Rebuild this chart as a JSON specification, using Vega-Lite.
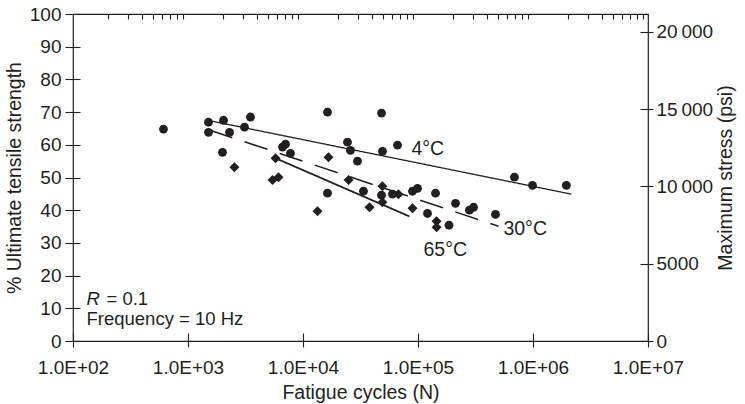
{
  "$schema": "https://vega.github.io/schema/vega-lite/v6.json",
  "width": 575,
  "height": 327,
  "autosize": "none",
  "padding": {"left": 73, "top": 14, "right": 97, "bottom": 63},
  "background": "white",
  "config": {
    "view": {"stroke": "#231f20", "strokeWidth": 1.2},
    "font": "Liberation Sans",
    "axis": {
      "labelFont": "Liberation Sans",
      "titleFont": "Liberation Sans",
      "labelColor": "#231f20",
      "titleColor": "#231f20",
      "tickColor": "#231f20",
      "domainColor": "#231f20",
      "grid": false,
      "labelFontSize": 19,
      "titleFontSize": 19.5,
      "titleFontWeight": "normal",
      "tickWidth": 1.1,
      "domain": false
    },
    "text": {"font": "Liberation Sans", "fontSize": 19.5, "color": "#231f20"}
  },
  "datasets": {
    "points": [
      {"group": "4 °C / 30 °C", "N": 612, "pct": 64.8},
      {"group": "4 °C / 30 °C", "N": 1507, "pct": 66.9},
      {"group": "4 °C / 30 °C", "N": 1507, "pct": 63.8},
      {"group": "4 °C / 30 °C", "N": 2037, "pct": 67.5},
      {"group": "4 °C / 30 °C", "N": 2296, "pct": 63.8},
      {"group": "4 °C / 30 °C", "N": 3099, "pct": 65.4},
      {"group": "4 °C / 30 °C", "N": 3493, "pct": 68.5},
      {"group": "4 °C / 30 °C", "N": 1995, "pct": 57.7},
      {"group": "4 °C / 30 °C", "N": 6637, "pct": 59.3},
      {"group": "4 °C / 30 °C", "N": 7047, "pct": 60.2},
      {"group": "4 °C / 30 °C", "N": 7780, "pct": 57.4},
      {"group": "4 °C / 30 °C", "N": 16330, "pct": 70.0},
      {"group": "4 °C / 30 °C", "N": 48170, "pct": 69.7},
      {"group": "4 °C / 30 °C", "N": 24380, "pct": 60.8},
      {"group": "4 °C / 30 °C", "N": 25880, "pct": 58.3},
      {"group": "4 °C / 30 °C", "N": 49090, "pct": 58.0},
      {"group": "4 °C / 30 °C", "N": 66370, "pct": 59.9},
      {"group": "4 °C / 30 °C", "N": 29770, "pct": 55.0},
      {"group": "4 °C / 30 °C", "N": 16330, "pct": 45.2},
      {"group": "4 °C / 30 °C", "N": 33560, "pct": 45.8},
      {"group": "4 °C / 30 °C", "N": 48170, "pct": 44.6},
      {"group": "4 °C / 30 °C", "N": 60000, "pct": 44.9},
      {"group": "4 °C / 30 °C", "N": 89600, "pct": 45.8},
      {"group": "4 °C / 30 °C", "N": 99100, "pct": 46.7},
      {"group": "4 °C / 30 °C", "N": 142000, "pct": 45.2},
      {"group": "4 °C / 30 °C", "N": 121000, "pct": 39.0},
      {"group": "4 °C / 30 °C", "N": 212000, "pct": 42.1},
      {"group": "4 °C / 30 °C", "N": 280000, "pct": 40.0},
      {"group": "4 °C / 30 °C", "N": 304000, "pct": 40.9},
      {"group": "4 °C / 30 °C", "N": 472000, "pct": 38.7},
      {"group": "4 °C / 30 °C", "N": 186000, "pct": 35.4},
      {"group": "4 °C / 30 °C", "N": 690000, "pct": 50.1},
      {"group": "4 °C / 30 °C", "N": 990000, "pct": 47.6},
      {"group": "4 °C / 30 °C", "N": 1950000, "pct": 47.6},
      {"group": "65 °C", "N": 2535, "pct": 53.1},
      {"group": "65 °C", "N": 5770, "pct": 55.9},
      {"group": "65 °C", "N": 5430, "pct": 49.2},
      {"group": "65 °C", "N": 6120, "pct": 50.1},
      {"group": "65 °C", "N": 16670, "pct": 56.2},
      {"group": "65 °C", "N": 24890, "pct": 49.2},
      {"group": "65 °C", "N": 13370, "pct": 39.7},
      {"group": "65 °C", "N": 49090, "pct": 47.3},
      {"group": "65 °C", "N": 49090, "pct": 42.4},
      {"group": "65 °C", "N": 37870, "pct": 40.9},
      {"group": "65 °C", "N": 67600, "pct": 44.9},
      {"group": "65 °C", "N": 89600, "pct": 40.6},
      {"group": "65 °C", "N": 145000, "pct": 36.6},
      {"group": "65 °C", "N": 145000, "pct": 34.8}
    ],
    "fits": [
      {"temp": "4°C", "N": 1479, "pct": 67.5},
      {"temp": "4°C", "N": 2160000, "pct": 44.9},
      {"temp": "30°C", "N": 1538, "pct": 64.5},
      {"temp": "30°C", "N": 500000, "pct": 35.1},
      {"temp": "65°C", "N": 5770, "pct": 55.9},
      {"temp": "65°C", "N": 84300, "pct": 38.1}
    ],
    "labels": [
      {"label": "4°C", "N": 87700, "pct": 58.7},
      {"label": "30°C", "N": 553000, "pct": 34.1},
      {"label": "65°C", "N": 111700, "pct": 27.7}
    ],
    "notes": [
      {"part": "R", "N": 131, "psi": 2707},
      {"part": "= 0.1", "N": 131, "psi": 2707},
      {"part": "Frequency = 10 Hz", "N": 131, "psi": 1417}
    ]
  },
  "layer": [
    {
      "data": {"name": "points"},
      "mark": {"type": "point", "filled": true, "opacity": 1, "color": "#231f20", "strokeWidth": 0},
      "encoding": {
        "x": {
          "field": "N", "type": "quantitative",
          "scale": {"type": "log", "domain": [100, 10000000], "nice": false},
          "axis": {
            "values": [100, 1000, 10000, 100000, 1000000, 10000000],
            "labelExpr": "'1.0E+0' + round(log(datum.value) / LN10)",
            "labelFlush": false,
            "labelOverlap": false,
            "offset": -8,
            "tickSize": 14,
            "labelPadding": 11,
            "title": "Fatigue cycles (N)",
            "titlePadding": 6
          }
        },
        "y": {
          "field": "pct", "type": "quantitative",
          "scale": {"domain": [0, 100], "nice": false},
          "axis": {
            "values": [0, 10, 20, 30, 40, 50, 60, 70, 80, 90, 100],
            "offset": -7,
            "tickSize": 15,
            "labelPadding": 4,
            "title": "% Ultimate tensile strength",
            "titlePadding": 5
          }
        },
        "shape": {
          "field": "group", "type": "nominal",
          "scale": {"domain": ["4 °C / 30 °C", "65 °C"], "range": ["circle", "diamond"]},
          "legend": null
        },
        "size": {
          "field": "group", "type": "nominal",
          "scale": {"domain": ["4 °C / 30 °C", "65 °C"], "range": [78, 100]},
          "legend": null
        }
      }
    },
    {
      "data": {"name": "fits"},
      "mark": {"type": "line", "color": "#231f20"},
      "encoding": {
        "x": {
          "field": "N", "type": "quantitative",
          "scale": {"type": "log", "domain": [100, 10000000], "nice": false},
          "axis": {
            "values": [200, 300, 400, 500, 600, 700, 800, 900, 2000, 3000, 4000, 5000, 6000, 7000, 8000, 9000, 20000, 30000, 40000, 50000, 60000, 70000, 80000, 90000, 200000, 300000, 400000, 500000, 600000, 700000, 800000, 900000, 2000000, 3000000, 4000000, 5000000, 6000000, 7000000, 8000000, 9000000],
            "labels": false,
            "offset": -5,
            "tickSize": 5,
            "title": null
          }
        },
        "y": {
          "field": "pct", "type": "quantitative",
          "scale": {"domain": [0, 100], "nice": false},
          "axis": null
        },
        "detail": {"field": "temp", "type": "nominal"},
        "strokeDash": {
          "field": "temp", "type": "nominal",
          "scale": {"domain": ["4°C", "30°C", "65°C"], "range": [[1, 0], [24, 13], [1, 0]]},
          "legend": null
        },
        "strokeWidth": {
          "field": "temp", "type": "nominal",
          "scale": {"domain": ["4°C", "30°C", "65°C"], "range": [1.3, 1.8, 2.1]},
          "legend": null
        }
      }
    },
    {
      "data": {"name": "labels"},
      "mark": {"type": "text", "align": "left", "baseline": "middle"},
      "encoding": {
        "x": {
          "field": "N", "type": "quantitative",
          "scale": {"type": "log", "domain": [100, 10000000], "nice": false},
          "axis": null
        },
        "y": {
          "field": "pct", "type": "quantitative",
          "scale": {"domain": [0, 100], "nice": false},
          "axis": null
        },
        "text": {"field": "label"}
      }
    },
    {
      "data": {"name": "notes"},
      "encoding": {
        "x": {
          "field": "N", "type": "quantitative",
          "scale": {"type": "log", "domain": [100, 10000000], "nice": false},
          "axis": null
        },
        "y": {
          "field": "psi", "type": "quantitative",
          "scale": {"domain": [0, 21150], "nice": false},
          "axis": {
            "orient": "right",
            "values": [0, 5000, 10000, 15000, 20000],
            "labelExpr": "datum.value >= 10000 ? replace(format(datum.value, ','), ',', '\u2009') : format(datum.value, 'd')",
            "offset": -8,
            "tickSize": 13,
            "labelPadding": 3,
            "title": "Maximum stress (psi)",
            "titleAngle": 270,
            "titleBaseline": "top",
            "titlePadding": 4
          }
        },
        "text": {"field": "part"}
      },
      "layer": [
        {
          "transform": [{"filter": "datum.part == 'R'"}],
          "mark": {"type": "text", "align": "left", "baseline": "middle", "fontStyle": "italic", "fontSize": 18.5}
        },
        {
          "transform": [{"filter": "datum.part == '= 0.1'"}],
          "mark": {"type": "text", "align": "left", "baseline": "middle", "dx": 20, "fontSize": 18.5}
        },
        {
          "transform": [{"filter": "datum.part == 'Frequency = 10 Hz'"}],
          "mark": {"type": "text", "align": "left", "baseline": "middle", "fontSize": 18.5}
        }
      ]
    }
  ],
  "resolve": {
    "scale": {"y": "independent"},
    "axis": {"x": "independent", "y": "independent"}
  }
}
